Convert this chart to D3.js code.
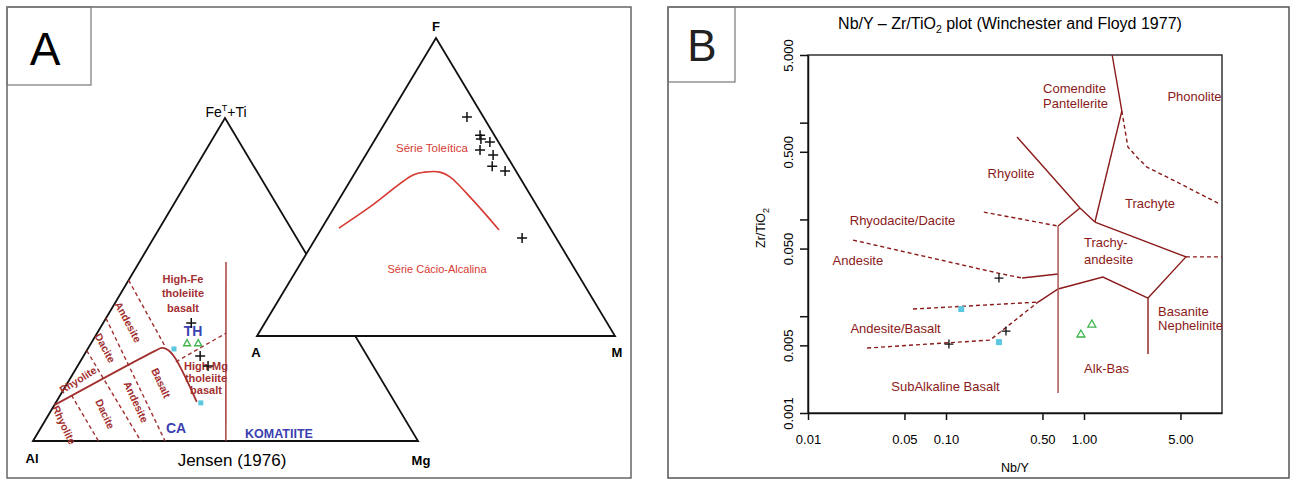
<!DOCTYPE html>
<html><head><meta charset="utf-8">
<script src="https://cdn.jsdelivr.net/npm/d3@7"></script>
<style>
body{margin:0;background:#fff;}
svg{display:block;font-family:"Liberation Sans",Arial,sans-serif;}
</style></head><body>
<svg width="1292" height="482"></svg>
<script>
// ---------- panel A : Jensen cation plot, [Al, Fe+Ti, Mg] in % ----------
const jensenCross  = [[40.6,36.5,22.9],[43.4,26.3,30.3],[42.9,23.2,33.9]];
const jensenTri    = [[44.8,30.3,24.9],[41.9,30.3,27.8]];
const jensenSquare = [[49.1,28.5,22.4],[50.5,11.8,37.7]];
const jensenThCa   = [[88.9,11.1,0],[54.3,27.9,17.8],[52.1,28.8,19.1],[50.8,28.2,21.0],[50.2,25.7,24.1],[51.4,12.1,36.5]];
const jensenThCaDash = [[50.6,24.5,24.9],[33.1,33.4,33.5]];
const jensenKomatiite = [[22.1,55.4,22.5],[49.9,0,50.1]];
const jensenDashed = [
  [[50.2,49.8,0],[51.0,29.4,19.6]],
  [[62.0,38.0,0],[65.7,0,34.3]],
  [[72.0,28.0,0],[72.0,0,28.0]],
  [[82.9,14.2,2.9],[83.0,0,17.0]]
];

// ---------- panel A : AFM plot, [A, F, M] in % ----------
const afmCross = [[4.6,73.5,21.9],[4.0,67.4,28.6],[4.4,66.1,29.5],[2.4,65.1,32.5],[6.5,62.4,31.1],
                  [3.7,60.7,35.6],[5.8,57.0,37.2],[3.0,55.4,41.6],[9.5,32.9,57.6]];
const afmCurve = [[59.0,36.2,4.8],[46.8,43.3,9.9],[29.4,54.0,16.6],[25.6,55.0,19.4],[21.4,55.0,23.6],
                  [19.4,53.4,27.2],[16.9,45.6,37.5],[14.6,35.6,49.8]];

// ---------- panel B : Winchester & Floyd, [Nb/Y, Zr/TiO2] ----------
const xTicks = [0.01, 0.05, 0.1, 0.5, 1, 5];
const xTickLabels = ["0.01", "0.05", "0.10", "0.50", "1.00", "5.00"];
const yTicks = [0.001, 0.005, 0.01, 0.05, 0.1, 0.5, 1, 5];
const yTickLabels = ["0.001", "0.005", "", "0.050", "", "0.500", "", "5.000"];

const bSolid = [
  [[1.6,5],[1.88,1.32]],
  [[1.88,1.32],[1.2,0.094]],
  [[0.327,0.71],[0.935,0.131],[1.2,0.094]],
  [[0.935,0.131],[0.649,0.0855]],
  [[1.2,0.094],[5.48,0.041],[2.91,0.0154]],
  [[2.91,0.0154],[2.91,0.00407]],
  [[2.91,0.0154],[1.37,0.0254],[0.649,0.0191],[0.465,0.014]],
  [[0.356,0.0248],[0.649,0.0273]]
];
const bVertical = [[0.649,0.0855],[0.649,0.00161]];
const bDashed = [
  [[1.88,1.32],[2.08,0.56],[2.42,0.44],[2.86,0.347],[4.42,0.255],[9.35,0.1475]],
  [[5.48,0.041],[10,0.041]],
  [[0.188,0.119],[0.649,0.0855]],
  [[0.0212,0.0612],[0.238,0.0279],[0.356,0.0248]],
  [[0.0577,0.01186],[0.465,0.014]],
  [[0.0268,0.00469],[0.2085,0.00567],[0.465,0.014]]
];
const bCross    = [[0.242,0.0248],[0.272,0.00703],[0.105,0.00516]];
const bSquare   = [[0.129,0.01186],[0.242,0.0054]];
const bTriangle = [[1.14,0.0083],[0.95,0.00655]];

const bLabels = [
  {t:"Comendite", x:0.505, y:2.28, a:"start"},
  {t:"Pantellerite", x:0.505, y:1.59, a:"start"},
  {t:"Phonolite", x:6.32, y:1.88, a:"middle"},
  {t:"Rhyolite", x:0.296, y:0.301, a:"middle"},
  {t:"Trachyte", x:3.01, y:0.1475, a:"middle"},
  {t:"Rhyodacite/Dacite", x:0.0484, y:0.0987, a:"middle"},
  {t:"Andesite", x:0.023, y:0.0381, a:"middle"},
  {t:"Trachy-", x:1.0, y:0.0585, a:"start"},
  {t:"andesite", x:1.0, y:0.039, a:"start"},
  {t:"Andesite/Basalt", x:0.0431, y:0.00755, a:"middle"},
  {t:"SubAlkaline Basalt", x:0.0992, y:0.0019, a:"middle"},
  {t:"Alk-Bas", x:1.456, y:0.00292, a:"middle"},
  {t:"Basanite", x:3.44, y:0.01133, a:"start"},
  {t:"Nephelinite", x:3.44, y:0.0081, a:"start"}
];

const svg = d3.select("svg");
const dark = "#8b1a1a", jred = "#a33030", blue = "#3b3fb0";

// panel frames and letter boxes
svg.append("rect").attr("x",7).attr("y",7).attr("width",624).attr("height",471)
   .attr("fill","none").attr("stroke","#666").attr("stroke-width",1.5);
svg.append("rect").attr("x",668).attr("y",7).attr("width",621).attr("height",471)
   .attr("fill","none").attr("stroke","#555").attr("stroke-width",1.5);
svg.append("rect").attr("x",7).attr("y",7).attr("width",84).attr("height",78)
   .attr("fill","none").attr("stroke","#777").attr("stroke-width",1.2);
svg.append("rect").attr("x",668).attr("y",7).attr("width",67).attr("height",75)
   .attr("fill","none").attr("stroke","#777").attr("stroke-width",1.2);
svg.append("text").attr("x",45).attr("y",65).attr("text-anchor","middle")
   .style("font-size","46px").text("A");
svg.append("text").attr("x",702).attr("y",61).attr("text-anchor","middle")
   .style("font-size","44px").style("fill","#222").text("B");

// ternary helper made of two linear scales
function ternary(left, apex, right) {
  const x = d3.scaleLinear().domain([0,100]).range([left[0], right[0]]);
  const shift = d3.scaleLinear().domain([0,100]).range([0, apex[0]-left[0]]);
  const y = d3.scaleLinear().domain([0,100]).range([left[1], apex[1]]);
  return d => [x(d[2]) + shift(d[1]), y(d[1])];
}
const jp = ternary([33,441],[225,118],[418,441]);
const ap = ternary([257,336],[436,38],[615,336]);
const line = d3.line();

function cross(g, p, s, color, w) {
  g.append("path").attr("d", `M${p[0]-s},${p[1]}H${p[0]+s}M${p[0]},${p[1]-s}V${p[1]+s}`)
   .attr("stroke", color).attr("stroke-width", w).attr("fill","none");
}
function tri(g, p, s, color, w) {
  g.append("path").attr("d", `M${p[0]},${p[1]-s}L${p[0]+s},${p[1]+s*0.75}L${p[0]-s},${p[1]+s*0.75}Z`)
   .attr("stroke", color).attr("stroke-width", w).attr("fill","none");
}

// ---- Jensen triangle ----
const gj = svg.append("g");
gj.append("path").attr("d", line([jp([100,0,0]), jp([0,100,0]), jp([0,0,100])]) + "Z")
  .attr("fill","none").attr("stroke","#111").attr("stroke-width",1.8);
gj.append("path").attr("d", line(jensenKomatiite.map(jp))).attr("fill","none")
  .attr("stroke",jred).attr("stroke-width",1.4);
gj.append("path").attr("d", d3.line().curve(d3.curveCatmullRom)(jensenThCa.map(jp))).attr("fill","none")
  .attr("stroke",jred).attr("stroke-width",1.8);
gj.append("path").attr("d", line(jensenThCaDash.map(jp))).attr("fill","none")
  .attr("stroke",jred).attr("stroke-width",1.4).attr("stroke-dasharray","4,3");
jensenDashed.forEach(l => gj.append("path").attr("d", line(l.map(jp))).attr("fill","none")
  .attr("stroke",jred).attr("stroke-width",1.4).attr("stroke-dasharray","4,3"));

const jl = [
  {t:"High-Fe", x:183, y:283}, {t:"tholeiite", x:183, y:297}, {t:"basalt", x:183, y:312},
  {t:"High-Mg", x:206, y:370}, {t:"tholeiite", x:206, y:382}, {t:"basalt", x:206, y:394}
];
jl.forEach(d => gj.append("text").attr("x",d.x).attr("y",d.y).attr("text-anchor","middle")
  .style("font-size","11px").style("font-weight","bold").style("fill",jred).text(d.t));
const jr = [
  {t:"Andesite", x:128, y:322, r:62}, {t:"Dacite", x:105, y:348, r:62},
  {t:"Rhyolite", x:78, y:380, r:-32},
  {t:"Rhyolite", x:64, y:425, r:65}, {t:"Dacite", x:105, y:414, r:65},
  {t:"Andesite", x:136, y:402, r:65}, {t:"Basalt", x:161, y:383, r:65}
];
jr.forEach(d => gj.append("text").attr("transform",`translate(${d.x},${d.y}) rotate(${d.r})`)
  .attr("text-anchor","middle").attr("dy","0.35em")
  .style("font-size","10.5px").style("font-weight","bold").style("fill",jred).text(d.t));

jensenSquare.forEach(d => { const p = jp(d);
  gj.append("rect").attr("x",p[0]-2.5).attr("y",p[1]-2.5).attr("width",5).attr("height",5).attr("fill","#5cc8e0"); });
jensenTri.forEach(d => tri(gj, jp(d), 3.5, "#3cb44b", 1.3));
gj.append("text").attr("x",193).attr("y",336).attr("text-anchor","middle")
  .style("font-size","14px").style("font-weight","bold").style("fill",blue).text("TH");
jensenCross.forEach(d => cross(gj, jp(d), 5, "#111", 1.5));
gj.append("text").attr("x",176).attr("y",433).attr("text-anchor","middle")
  .style("font-size","14px").style("font-weight","bold").style("fill",blue).text("CA");
gj.append("text").attr("x",279).attr("y",438).attr("text-anchor","middle")
  .style("font-size","12.5px").style("font-weight","bold").style("fill",blue).text("KOMATIITE");
gj.append("text").attr("x",32).attr("y",463).attr("text-anchor","middle")
  .style("font-size","13px").style("font-weight","bold").text("Al");
gj.append("text").attr("x",421).attr("y",465).attr("text-anchor","middle")
  .style("font-size","13px").style("font-weight","bold").text("Mg");
gj.append("text").attr("x",232).attr("y",466).attr("text-anchor","middle")
  .style("font-size","17px").text("Jensen (1976)");
const fet = gj.append("text").attr("x",226).attr("y",117).attr("text-anchor","middle")
  .style("font-size","14px");
fet.append("tspan").text("Fe");
fet.append("tspan").attr("dy",-6).style("font-size","9px").text("T");
fet.append("tspan").attr("dy",6).text("+Ti");

// ---- AFM triangle (drawn on top, white fill) ----
const ga = svg.append("g");
ga.append("path").attr("d", line([ap([100,0,0]), ap([0,100,0]), ap([0,0,100])]) + "Z")
  .attr("fill","#fff").attr("stroke","#111").attr("stroke-width",1.8);
ga.append("path").attr("d", d3.line().curve(d3.curveCatmullRom)(afmCurve.map(ap)))
  .attr("fill","none").attr("stroke","#d63a32").attr("stroke-width",1.6);
afmCross.forEach(d => cross(ga, ap(d), 5, "#111", 1.5));
ga.append("text").attr("x",432).attr("y",152).attr("text-anchor","middle")
  .style("font-size","11.5px").style("fill","#d63a32").text("Série Toleítica");
ga.append("text").attr("x",437).attr("y",273).attr("text-anchor","middle")
  .style("font-size","11px").style("fill","#d63a32").text("Série Cácio-Alcalina");
[["F",436,31],["A",256,357],["M",617,357]].forEach(d =>
  ga.append("text").attr("x",d[1]).attr("y",d[2]).attr("text-anchor","middle")
    .style("font-size","13px").style("font-weight","bold").text(d[0]));

// ---- panel B ----
const x = d3.scaleLog().domain([0.01, 10]).range([808, 1222]);
const y = d3.scaleLog().domain([0.001, 5]).range([413, 55]);
const gb = svg.append("g");
const bl = d3.line().x(d => x(d[0])).y(d => y(d[1]));

gb.append("rect").attr("x",x(0.01)).attr("y",y(5)).attr("width",x(10)-x(0.01)).attr("height",y(0.001)-y(5))
  .attr("fill","none").attr("stroke","#333").attr("stroke-width",1.5);

bSolid.forEach(l => gb.append("path").attr("d", bl(l)).attr("fill","none")
  .attr("stroke",dark).attr("stroke-width",1.4));
gb.append("path").attr("d", bl(bVertical)).attr("fill","none")
  .attr("stroke","#b0605e").attr("stroke-width",1.6);
bDashed.forEach(l => gb.append("path").attr("d", bl(l)).attr("fill","none")
  .attr("stroke",dark).attr("stroke-width",1.4).attr("stroke-dasharray","4,3"));

bLabels.forEach(d => gb.append("text").attr("x",x(d.x)).attr("y",y(d.y)).attr("dy","0.35em")
  .attr("text-anchor",d.a).style("font-size","13px").style("fill",dark).text(d.t));

bSquare.forEach(d => gb.append("rect").attr("x",x(d[0])-3).attr("y",y(d[1])-3)
  .attr("width",6).attr("height",6).attr("fill","#5cc8e0"));
bTriangle.forEach(d => tri(gb, [x(d[0]), y(d[1])], 4, "#3cb44b", 1.3));
bCross.forEach(d => cross(gb, [x(d[0]), y(d[1])], 4.5, "#111", 1.3));

const ax = gb.append("g").attr("transform",`translate(0,${y(0.001)})`)
  .call(d3.axisBottom(x).tickValues(xTicks).tickFormat((d,i) => xTickLabels[i]).tickSize(7).tickSizeOuter(0));
ax.selectAll("text").attr("y",22).style("font-size","13px").style("font-family","Liberation Sans, Arial");
const ay = gb.append("g").attr("transform",`translate(${x(0.01)},0)`)
  .call(d3.axisLeft(y).tickValues(yTicks).tickFormat((d,i) => yTickLabels[i]).tickSize(8).tickSizeOuter(0));
ay.selectAll("text").attr("transform","rotate(-90)").attr("x",0).attr("y",-15).attr("dy",0)
  .attr("text-anchor","middle").style("font-size","13px").style("font-family","Liberation Sans, Arial");
[ax, ay].forEach(a => { a.selectAll("path,line").attr("stroke","#111").attr("stroke-width",1.5); });

gb.append("text").attr("x",1015).attr("y",472).attr("text-anchor","middle")
  .style("font-size","12.5px").text("Nb/Y");
const ylab = gb.append("text").attr("transform","translate(765,228) rotate(-90)")
  .attr("text-anchor","middle").style("font-size","12.5px");
ylab.append("tspan").text("Zr/TiO");
ylab.append("tspan").attr("dy",4).style("font-size","9px").text("2");

const title = gb.append("text").attr("x",1010).attr("y",29).attr("text-anchor","middle")
  .style("font-size","16px");
title.append("tspan").text("Nb/Y \u2013 Zr/TiO");
title.append("tspan").attr("dy",4).style("font-size","10.5px").text("2");
title.append("tspan").attr("dy",-4).text(" plot (Winchester and Floyd 1977)");
</script>
</body></html>
